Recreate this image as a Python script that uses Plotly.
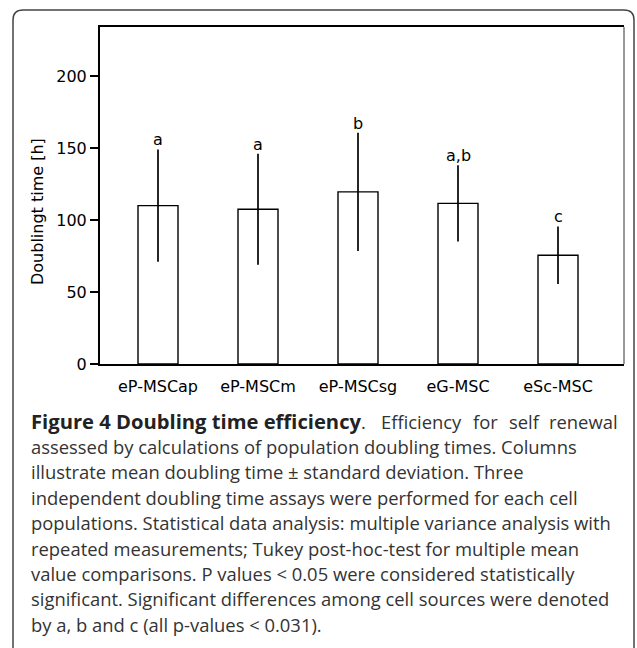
import plotly.graph_objects as go

# ---- data ----
categories = ["eP-MSCap", "eP-MSCm", "eP-MSCsg", "eG-MSC", "eSc-MSC"]
mean_hours = [110, 107.5, 119.5, 111.5, 75.5]
sd_hours = [39, 38.5, 41, 26.5, 20]
sig_letters = ["a", "a", "b", "a,b", "c"]
y_tick_values = [0, 50, 100, 150, 200]
y_title = "Doublingt time [h]"
caption_bold = "Figure 4 Doubling time efficiency"
caption_first_words = ["Efficiency", "for", "self", "renewal"]
caption_lines = [
    "assessed by calculations of population doubling times. Columns",
    "illustrate mean doubling time ± standard deviation. Three",
    "independent doubling time assays were performed for each cell",
    "populations. Statistical data analysis: multiple variance analysis with",
    "repeated measurements; Tukey post-hoc-test for multiple mean",
    "value comparisons. P values < 0.05 were considered statistically",
    "significant. Significant differences among cell sources were denoted",
    "by a, b and c (all p-values < 0.031).",
]

W, H = 637, 648
L, R, T, B = 100, 13, 27, 284
pw, ph = W - L - R, H - T - B


def px(x):
    return (x - L) / pw


def py(y):
    return (H - B - y) / ph


fig = go.Figure()
fig.add_trace(go.Bar(
    x=categories, y=mean_hours, width=0.4,
    marker=dict(color="white", line=dict(color="black", width=1.4)),
    error_y=dict(type="data", array=sd_hours, visible=True,
                 thickness=1.7, width=0, color="black"),
    showlegend=False,
))

annotations = []
for c, m, s, lab in zip(categories, mean_hours, sd_hours, sig_letters):
    annotations.append(dict(x=c, y=m + s, xref="x", yref="y", text=lab,
                            showarrow=False, yanchor="bottom", yshift=-2,
                            font=dict(family="DejaVu Sans", size=16, color="black")))

annotations.append(dict(x=px(37), y=py(212), xref="paper", yref="paper",
                        text=y_title, textangle=-90, showarrow=False,
                        xanchor="center", yanchor="middle",
                        font=dict(family="DejaVu Sans", size=16, color="black")))

cap_font = dict(family="Open Sans", size=18.4, color="#333333")
bold_font = dict(family="Open Sans", size=20.2, color="#222222")
line_y0 = 421
line_dy = 25.4

# first caption line (justified in the reference)
annotations.append(dict(x=px(29), y=py(line_y0), xref="paper", yref="paper",
                        text="<b>" + caption_bold + "</b><span style='font-size:18.4px;color:#333333'>.</span>",
                        showarrow=False, xanchor="left", yanchor="middle", font=bold_font))
word_x = [379, 471, 507, 620]
for k, (wd, wx) in enumerate(zip(caption_first_words, word_x)):
    annotations.append(dict(x=px(wx), y=py(line_y0), xref="paper", yref="paper",
                            text=wd, showarrow=False,
                            xanchor="right" if k == len(caption_first_words) - 1 else "left",
                            yanchor="middle", font=cap_font))

for i, line in enumerate(caption_lines):
    annotations.append(dict(x=px(29), y=py(line_y0 + (i + 1) * line_dy), xref="paper", yref="paper",
                            text=line, showarrow=False, xanchor="left", yanchor="middle",
                            font=cap_font))

# outer rounded frame (open at bottom)
x0, x1, y0, r = 13, 634, 10, 10
ybot = 660
path = (f"M {px(x0)},{py(ybot)} L {px(x0)},{py(y0 + r)} "
        f"Q {px(x0)},{py(y0)} {px(x0 + r)},{py(y0)} "
        f"L {px(x1 - r)},{py(y0)} "
        f"Q {px(x1)},{py(y0)} {px(x1)},{py(y0 + r)} "
        f"L {px(x1)},{py(ybot)}")
shapes = [
    dict(type="path", xref="paper", yref="paper", path=path,
         line=dict(color="#444444", width=1.5)),
    dict(type="line", xref="paper", yref="paper", x0=1, x1=1, y0=0, y1=1,
         line=dict(color="#333333", width=1)),
]

fig.update_layout(
    width=W, height=H,
    margin=dict(l=L, r=R, t=T, b=B),
    paper_bgcolor="white", plot_bgcolor="white",
    font=dict(family="DejaVu Sans", size=16, color="black"),
    xaxis=dict(range=[-0.58, 4.66], showline=True, linecolor="black", linewidth=2,
               mirror=True, ticks="", showgrid=False, zeroline=False,
               tickfont=dict(family="DejaVu Sans", size=16, color="black"),
               ticklabelstandoff=7),
    yaxis=dict(range=[0, 234], tickvals=y_tick_values, showline=True, linecolor="black",
               linewidth=2, ticks="outside", ticklen=8, tickwidth=2, tickcolor="black",
               showgrid=False, zeroline=False,
               tickfont=dict(family="DejaVu Sans", size=16, color="black")),
    annotations=annotations,
    shapes=shapes,
    bargap=0.6,
)

fig.write_html("out.html", config={"displayModeBar": False},
               post_script="document.body.style.margin='0px';document.body.style.overflow='hidden';")
